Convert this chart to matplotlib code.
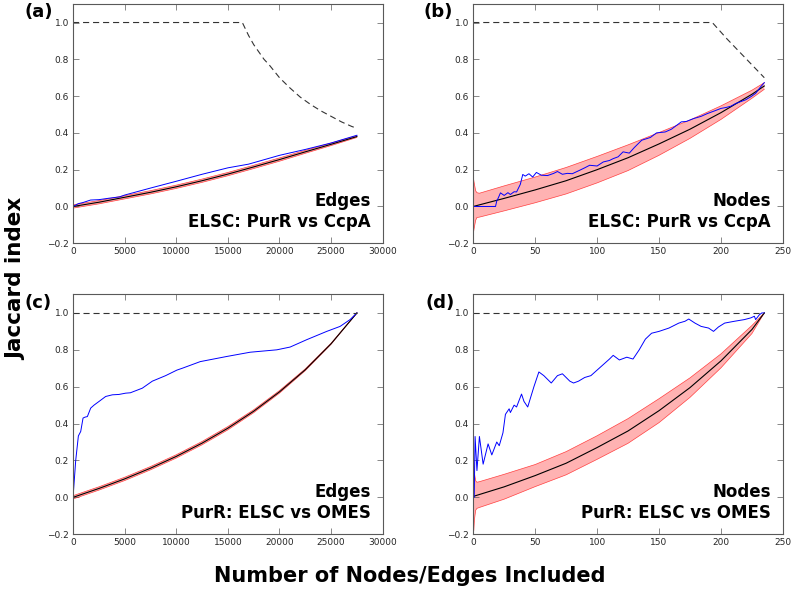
import matplotlib
matplotlib.use("Agg")
import matplotlib.pyplot as plt

# (a) edges, ELSC: PurR vs CcpA
A_X_DASH = [0, 16400, 17000, 17500, 18000, 18500, 19000, 20000, 21000, 22000,
            23000, 24000, 25000, 26000, 27000, 27500]
A_DASH = [1.0, 1.0, 0.93, 0.88, 0.84, 0.80, 0.77, 0.70, 0.645, 0.595, 0.555,
          0.52, 0.49, 0.46, 0.435, 0.425]
A_X_BLUE = [0, 500, 1000, 1700, 2500, 3500, 4500, 5000, 7500, 10000, 12500,
            15000, 17000, 20000, 22500, 25000, 27500]
A_BLUE = [0.0, 0.015, 0.022, 0.035, 0.037, 0.045, 0.052, 0.062, 0.10, 0.137,
          0.175, 0.21, 0.23, 0.278, 0.31, 0.345, 0.387]
A_X_MEAN = [0, 2500, 5000, 7500, 10000, 12500, 15000, 17500, 20000, 22500, 25000, 27500]
A_MEAN = [0.0, 0.023, 0.05, 0.077, 0.107, 0.14, 0.176, 0.215, 0.255, 0.297, 0.338, 0.38]
A_UPPER = [0.009, 0.032, 0.059, 0.086, 0.116, 0.149, 0.185, 0.224, 0.264, 0.305, 0.345, 0.385]
A_LOWER = [-0.009, 0.014, 0.041, 0.068, 0.098, 0.131, 0.167, 0.206, 0.246, 0.289, 0.331, 0.375]

# (b) nodes, ELSC: PurR vs CcpA
B_X_DASH = [0, 193, 205, 215, 225, 235]
B_DASH = [1.0, 1.0, 0.91, 0.84, 0.77, 0.70]
B_X_BLUE = [0, 18, 19, 20, 22, 25, 28, 30, 33, 35, 38, 40, 42, 45, 48, 51, 55, 60,
            65, 68, 72, 76, 80, 86, 90, 94, 100, 105, 110, 113, 117, 121, 126, 130,
            136, 143, 148, 155, 160, 168, 172, 178, 184, 189, 195, 200, 204, 208,
            212, 216, 220, 224, 228, 232, 235]
B_BLUE = [0.0, 0.0, 0.03, 0.043, 0.074, 0.06, 0.075, 0.065, 0.08, 0.079, 0.12,
          0.174, 0.165, 0.178, 0.16, 0.185, 0.17, 0.168, 0.18, 0.19, 0.175, 0.18,
          0.178, 0.197, 0.21, 0.224, 0.22, 0.242, 0.25, 0.26, 0.27, 0.297, 0.29,
          0.32, 0.36, 0.375, 0.40, 0.405, 0.42, 0.46, 0.462, 0.478, 0.49, 0.505,
          0.52, 0.533, 0.538, 0.545, 0.56, 0.57, 0.58, 0.596, 0.615, 0.65, 0.673]
B_X_MEAN = [0, 25, 50, 75, 100, 125, 150, 175, 200, 225, 235]
B_MEAN = [0.0, 0.044, 0.09, 0.14, 0.20, 0.265, 0.34, 0.42, 0.51, 0.61, 0.655]
B_X_BAND = [0, 1, 2, 3, 5, 25, 50, 75, 100, 125, 150, 175, 200, 225, 235]
B_UPPER = [0.16, 0.12, 0.085, 0.075, 0.072, 0.112, 0.16, 0.212, 0.272, 0.335,
           0.402, 0.47, 0.547, 0.632, 0.673]
B_LOWER = [-0.15, -0.11, -0.075, -0.06, -0.058, -0.024, 0.02, 0.068, 0.128, 0.195,
           0.278, 0.37, 0.473, 0.588, 0.637]

# (c) edges, PurR: ELSC vs OMES
C_X_DASH = [0, 27500]
C_DASH = [1.0, 1.0]
C_X_BLUE = [0, 258, 516, 742, 968, 1160, 1387, 1710, 2030, 2516, 3160, 3810, 4450,
            5100, 5550, 6710, 7680, 8970, 10060, 10580, 12320, 14900, 17160, 19740,
            21030, 22640, 24580, 25870, 26840, 27500]
C_BLUE = [0.0, 0.2, 0.333, 0.357, 0.43, 0.435, 0.438, 0.484, 0.50, 0.52, 0.547,
          0.556, 0.558, 0.565, 0.567, 0.592, 0.63, 0.66, 0.69, 0.70, 0.736, 0.764,
          0.787, 0.80, 0.815, 0.855, 0.90, 0.927, 0.964, 1.0]
C_X_MEAN = [0, 2500, 5000, 7500, 10000, 12500, 15000, 17500, 20000, 22500, 25000, 27500]
C_MEAN = [0.0, 0.048, 0.10, 0.158, 0.222, 0.294, 0.375, 0.467, 0.572, 0.692, 0.833, 1.0]
C_UPPER = [0.009, 0.057, 0.109, 0.167, 0.231, 0.303, 0.384, 0.475, 0.579, 0.697, 0.836, 1.0]
C_LOWER = [-0.009, 0.039, 0.091, 0.149, 0.213, 0.285, 0.366, 0.459, 0.565, 0.687, 0.830, 1.0]

# (d) nodes, PurR: ELSC vs OMES
D_X_DASH = [0, 235]
D_DASH = [1.0, 1.0]
D_X_BLUE = [0, 0.8, 1.5, 3, 5, 8, 12, 15, 19, 21, 24, 26, 29, 30, 33, 35, 39, 41,
            44, 49, 53, 55, 57, 60, 63, 68, 72, 78, 81, 85, 90, 95, 100, 105, 110,
            113, 118, 124, 129, 134, 139, 144, 150, 158, 166, 171, 174, 179, 184,
            190, 194, 198, 203, 211, 219, 224, 227, 228, 231, 233, 235]
D_BLUE = [0.0, 0.0, 0.33, 0.145, 0.33, 0.18, 0.29, 0.23, 0.30, 0.28, 0.35, 0.45,
          0.48, 0.46, 0.50, 0.49, 0.56, 0.52, 0.49, 0.60, 0.68, 0.67, 0.66, 0.64,
          0.62, 0.66, 0.67, 0.63, 0.62, 0.63, 0.65, 0.66, 0.69, 0.72, 0.75, 0.77,
          0.745, 0.76, 0.75, 0.80, 0.858, 0.89, 0.90, 0.918, 0.945, 0.955, 0.967,
          0.945, 0.927, 0.918, 0.90, 0.924, 0.945, 0.955, 0.964, 0.973, 0.982,
          0.964, 0.99, 1.0, 1.0]
D_X_MEAN = [0, 25, 50, 75, 100, 125, 150, 175, 200, 225, 235]
D_MEAN = [0.005, 0.057, 0.118, 0.185, 0.27, 0.36, 0.47, 0.595, 0.74, 0.91, 1.0]
D_X_BAND = [0, 0.5, 1, 2, 3, 5, 25, 50, 75, 100, 125, 150, 175, 200, 225, 235]
D_UPPER = [0.18, 0.2, 0.13, 0.09, 0.082, 0.085, 0.125, 0.178, 0.248, 0.334, 0.427,
           0.535, 0.648, 0.778, 0.932, 1.0]
D_LOWER = [-0.17, -0.18, -0.12, -0.07, -0.06, -0.055, -0.01, 0.058, 0.122, 0.206,
           0.293, 0.405, 0.542, 0.702, 0.888, 1.0]

fig = plt.figure(figsize=(7.94, 5.89), dpi=100)


def panel(rect, xlim, xticks, x_dash, dash, x_band, upper, lower, x_mean, mean,
          x_blue, blue, text, tag, tag_xy):
    ax = fig.add_axes(rect)
    ax.fill_between(x_band, lower, upper, facecolor="red", alpha=0.3, lw=0)
    ax.plot(x_band, upper, color="red", lw=0.5, alpha=0.7)
    ax.plot(x_band, lower, color="red", lw=0.5, alpha=0.7)
    ax.plot(x_mean, mean, color="black", lw=0.8)
    ax.plot(x_blue, blue, color="blue", lw=0.7)
    ax.plot(x_dash, dash, color="0.2", lw=0.8, ls="--", dashes=(5.5, 3.5))
    ax.set_xlim(*xlim)
    ax.set_ylim(-0.2, 1.1)
    ax.set_xticks(xticks)
    ax.set_yticks([-0.2, 0.0, 0.2, 0.4, 0.6, 0.8, 1.0])
    ax.tick_params(direction="in", top=True, right=True, length=4, width=0.5,
                   labelsize=6.5, pad=3, color="0.35", labelcolor="0.15")
    for s in ax.spines.values():
        s.set_color("0.35")
        s.set_linewidth(0.8)
    ax.text(0.961, 0.05, text, transform=ax.transAxes, ha="right", va="bottom",
            fontsize=12, fontweight="bold", multialignment="right", linespacing=1.25)
    fig.text(tag_xy[0], tag_xy[1], tag, fontsize=13, fontweight="bold",
             ha="left", va="center")
    return ax


edge_ticks = [0, 5000, 10000, 15000, 20000, 25000, 30000]
node_ticks = [0, 50, 100, 150, 200, 250]

panel([0.092, 0.587, 0.390, 0.406], (0, 30000), edge_ticks, A_X_DASH, A_DASH,
      A_X_MEAN, A_UPPER, A_LOWER, A_X_MEAN, A_MEAN, A_X_BLUE, A_BLUE,
      "Edges\nELSC: PurR vs CcpA", "(a)", (0.031, 0.980))
panel([0.596, 0.587, 0.390, 0.406], (0, 250), node_ticks, B_X_DASH, B_DASH,
      B_X_BAND, B_UPPER, B_LOWER, B_X_MEAN, B_MEAN, B_X_BLUE, B_BLUE,
      "Nodes\nELSC: PurR vs CcpA", "(b)", (0.534, 0.980))
panel([0.092, 0.093, 0.390, 0.407], (0, 30000), edge_ticks, C_X_DASH, C_DASH,
      C_X_MEAN, C_UPPER, C_LOWER, C_X_MEAN, C_MEAN, C_X_BLUE, C_BLUE,
      "Edges\nPurR: ELSC vs OMES", "(c)", (0.031, 0.486))
panel([0.596, 0.093, 0.390, 0.407], (0, 250), node_ticks, D_X_DASH, D_DASH,
      D_X_BAND, D_UPPER, D_LOWER, D_X_MEAN, D_MEAN, D_X_BLUE, D_BLUE,
      "Nodes\nPurR: ELSC vs OMES", "(d)", (0.536, 0.486))

fig.text(0.021, 0.526, "Jaccard index", rotation=90, fontsize=15.5,
         fontweight="bold", ha="center", va="center")
fig.text(0.516, 0.022, "Number of Nodes/Edges Included", fontsize=15,
         fontweight="bold", ha="center", va="center")

fig.savefig("out.png", dpi=100)
